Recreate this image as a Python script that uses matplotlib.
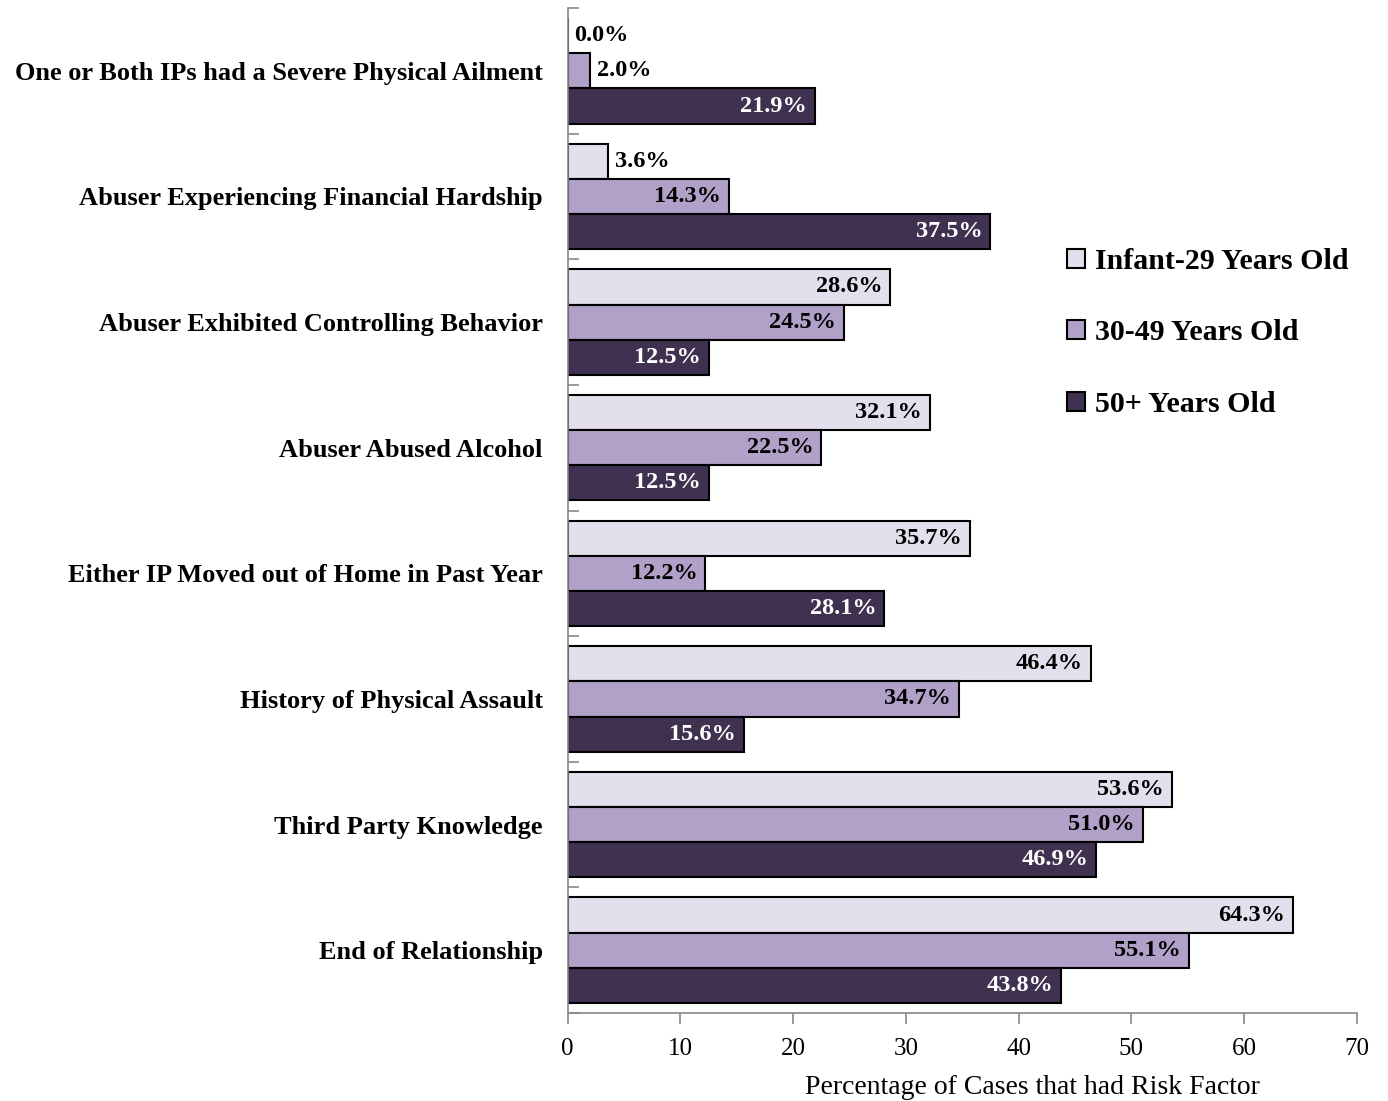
"""
Risk factors by age group of the victim: grouped horizontal bar chart.
"""

import matplotlib
matplotlib.use("Agg")
import matplotlib.pyplot as plt
import numpy as np

plt.rcParams["font.family"] = ["Liberation Serif", "DejaVu Serif"]

categories = [
    "One or Both IPs had a Severe Physical Ailment",
    "Abuser Experiencing Financial Hardship",
    "Abuser Exhibited Controlling Behavior",
    "Abuser Abused Alcohol",
    "Either IP Moved out of Home in Past Year",
    "History of Physical Assault",
    "Third Party Knowledge",
    "End of Relationship",
]
series_names = ["Infant-29 Years Old", "30-49 Years Old", "50+ Years Old"]
infant_29 = [0.0, 3.6, 28.6, 32.1, 35.7, 46.4, 53.6, 64.3]
age_30_49 = [2.0, 14.3, 24.5, 22.5, 12.2, 34.7, 51.0, 55.1]
age_50_up = [21.9, 37.5, 12.5, 12.5, 28.1, 15.6, 46.9, 43.8]
x_ticks = [0, 10, 20, 30, 40, 50, 60, 70]

colors = ["#E4DFEC", "#B1A0C7", "#403151"]
text_colors = ["black", "black", "white"]


def main():
    fig = plt.figure(figsize=(13.88, 11.01), dpi=100)
    ax = fig.add_axes([0.409, 0.0799, 0.5685, 0.9128])

    y = np.arange(len(categories))
    h = 0.28
    offsets = [-h, 0.0, h]

    for vals, name, col, tcol, off in zip(
        [infant_29, age_30_49, age_50_up], series_names, colors, text_colors, offsets
    ):
        bars = ax.barh(y + off, vals, height=h, color=col, edgecolor="black",
                       linewidth=1.5, label=name)
        for b, v in zip(bars, vals):
            cy = b.get_y() + b.get_height() / 2
            if v < 5:
                ax.text(v + 0.6, cy, f"{v:.1f}%", ha="left", va="center",
                        fontsize=17.5, fontweight="bold", color="black")
            else:
                ax.text(v - 0.7, cy, f"{v:.1f}%", ha="right", va="center",
                        fontsize=17.5, fontweight="bold", color=tcol)

    ax.set_ylim(len(categories) - 0.5, -0.5)
    ax.set_xlim(0, 70)
    ax.set_xticks(x_ticks)
    ax.set_xticklabels([str(t) for t in x_ticks], fontsize=18)

    ax.set_yticks(y)
    ax.set_yticklabels(categories, fontsize=19, fontweight="bold")
    ax.set_yticks(np.arange(len(categories) + 1) - 0.5, minor=True)
    ax.tick_params(axis="y", which="major", length=0, pad=18)
    ax.tick_params(axis="y", which="minor", direction="in", length=8,
                   color="#888888", width=1.2)
    ax.tick_params(axis="x", direction="out", length=8, color="#888888",
                   width=1.2, pad=10)

    for s in ["top", "right"]:
        ax.spines[s].set_visible(False)
    for s in ["left", "bottom"]:
        ax.spines[s].set_color("#888888")
        ax.spines[s].set_linewidth(1.2)

    fig.text(1032 / 1388, 1 - 1087 / 1101, "Percentage of Cases that had Risk Factor",
             ha="center", va="center", fontsize=20)

    ax.legend(loc="center left", bbox_to_anchor=(1067 / 1388, 1 - 333 / 1101),
              bbox_transform=fig.transFigure, borderpad=0, borderaxespad=0,
              frameon=False, handlelength=0.6, handleheight=0.6,
              handletextpad=0.35, labelspacing=1.5,
              prop={"size": 21.5, "weight": "bold"})

    fig.savefig("out.png", dpi=100)


if __name__ == "__main__":
    main()
